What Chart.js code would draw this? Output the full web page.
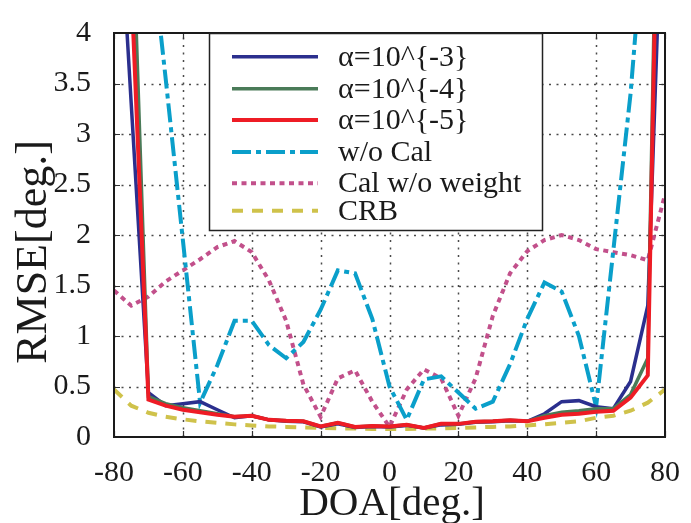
<!DOCTYPE html>
<html>
<head>
<meta charset="utf-8">
<script src="https://cdn.jsdelivr.net/npm/chart.js@4.4.1/dist/chart.umd.min.js"></script>
<style>
  html, body { margin: 0; padding: 0; background: #ffffff; }
  #wrap { width: 691px; height: 523px; }
</style>
</head>
<body>
<div id="wrap"><canvas id="c" width="691" height="523"></canvas></div>
<script>
// Direction of arrival (degrees)
const doa = [-80, -75, -70, -65, -60, -55, -50, -45, -40, -35, -30, -25, -20, -15, -10, -5, 0,
             5, 10, 15, 20, 25, 30, 35, 40, 45, 50, 55, 60, 65, 70, 75, 80];

// RMSE [deg.] per method
const alpha3 = [6.2, 3.3, 0.44, 0.31, 0.33, 0.35, 0.27, 0.19, 0.21, 0.17, 0.155, 0.15, 0.10, 0.13, 0.095, 0.105, 0.10,
                0.115, 0.09, 0.12, 0.125, 0.145, 0.15, 0.16, 0.155, 0.23, 0.35, 0.36, 0.30, 0.28, 0.55, 1.3, 6.2];
const alpha4 = [10, 5.5, 0.40, 0.33, 0.29, 0.26, 0.23, 0.20, 0.21, 0.17, 0.16, 0.155, 0.105, 0.14, 0.10, 0.11, 0.105,
                0.12, 0.09, 0.13, 0.13, 0.15, 0.155, 0.165, 0.155, 0.21, 0.245, 0.26, 0.28, 0.28, 0.42, 0.78, 10];
const alpha5 = [9, 4.5, 0.37, 0.31, 0.27, 0.245, 0.22, 0.20, 0.21, 0.17, 0.16, 0.155, 0.105, 0.14, 0.10, 0.11, 0.105,
                0.12, 0.09, 0.13, 0.13, 0.15, 0.155, 0.165, 0.155, 0.19, 0.22, 0.23, 0.25, 0.26, 0.39, 0.61, 9.3];
const noCal  = [9, 7, 5.1, 3.55, 1.95, 0.34, 0.71, 1.15, 1.15, 0.91, 0.78, 0.94, 1.26, 1.65, 1.62, 1.17, 0.5,
                0.17, 0.57, 0.6, 0.44, 0.28, 0.35, 0.72, 1.17, 1.53, 1.44, 1.0, 0.30, 1.85, 3.4, 5.5, 8];
const calNoWeight = [1.45, 1.3, 1.39, 1.54, 1.65, 1.76, 1.88, 1.94, 1.83, 1.55, 1.15, 0.52, 0.2, 0.58, 0.66, 0.35, 0.1,
                     0.47, 0.67, 0.58, 0.21, 0.58, 1.2, 1.62, 1.84, 1.95, 2.0, 1.95, 1.86, 1.83, 1.8, 1.75, 2.4];
const crb    = [0.47, 0.31, 0.24, 0.2, 0.175, 0.155, 0.14, 0.125, 0.115, 0.105, 0.1, 0.095, 0.09, 0.085, 0.085, 0.08, 0.08,
                0.08, 0.085, 0.085, 0.09, 0.095, 0.1, 0.105, 0.115, 0.125, 0.14, 0.155, 0.19, 0.21, 0.26, 0.34, 0.47];

const xTicks = [-80, -60, -40, -20, 0, 20, 40, 60, 80];
const yTicks = [0, 0.5, 1, 1.5, 2, 2.5, 3, 3.5, 4];

const seriesNames = ['α=10^{-3}', 'α=10^{-4}', 'α=10^{-5}', 'w/o Cal', 'Cal w/o weight', 'CRB'];

const serif = '"Liberation Serif", "DejaVu Serif", serif';
const textColor = '#1a1a1a';

const styles = [
  { color: '#2b2f8e', width: 3.5, dash: [] },
  { color: '#4a7b58', width: 3.5, dash: [] },
  { color: '#ee1c25', width: 4,   dash: [] },
  { color: '#0a9fca', width: 4,   dash: [19, 5, 5, 5] },
  { color: '#c2508b', width: 4,   dash: [5, 4.5] },
  { color: '#cfc24b', width: 4,   dash: [11, 9] }
];
const seriesData = [alpha3, alpha4, alpha5, noCal, calNoWeight, crb];
// red on top, CRB at the bottom
const drawOrder = [2, 1, 0, 3, 4, 5];

const datasets = seriesData.map((vals, i) => ({
  label: seriesNames[i],
  data: doa.map((d, k) => ({ x: d, y: vals[k] })),
  borderColor: styles[i].color,
  backgroundColor: styles[i].color,
  borderWidth: styles[i].width,
  borderDash: styles[i].dash,
  fill: false,
  pointRadius: 0,
  tension: 0,
  clip: 0,
  order: drawOrder[i]
}));

// Dotted grid behind the curves
const dottedGrid = {
  id: 'dottedGrid',
  beforeDatasetsDraw(chart) {
    const { ctx, chartArea: a, scales: { x, y } } = chart;
    ctx.save();
    ctx.strokeStyle = '#4a4a4a';
    ctx.lineWidth = 1.5;
    ctx.setLineDash([2, 5.5]);
    xTicks.slice(1, -1).forEach(v => {
      const px = Math.round(x.getPixelForValue(v)) + 0.5;
      ctx.beginPath();
      ctx.moveTo(px, a.bottom); ctx.lineTo(px, a.top);
      ctx.stroke();
    });
    yTicks.slice(1, -1).forEach(v => {
      const py = Math.round(y.getPixelForValue(v)) + 0.5;
      ctx.beginPath();
      ctx.moveTo(a.left, py); ctx.lineTo(a.right, py);
      ctx.stroke();
    });
    ctx.restore();
  }
};

// Box frame, inward tick marks, axis titles and the boxed legend
const decorations = {
  id: 'decorations',
  afterDatasetsDraw(chart) {
    const { ctx, chartArea: a, scales: { x, y } } = chart;
    ctx.save();
    ctx.setLineDash([]);

    // inward ticks
    ctx.strokeStyle = '#333';
    ctx.lineWidth = 1.2;
    const tl = 6;
    ctx.beginPath();
    xTicks.forEach(v => {
      const px = Math.round(x.getPixelForValue(v)) + 0.5;
      ctx.moveTo(px, a.bottom); ctx.lineTo(px, a.bottom - tl);
      ctx.moveTo(px, a.top); ctx.lineTo(px, a.top + tl);
    });
    yTicks.forEach(v => {
      const py = Math.round(y.getPixelForValue(v)) + 0.5;
      ctx.moveTo(a.left, py); ctx.lineTo(a.left + tl, py);
      ctx.moveTo(a.right, py); ctx.lineTo(a.right - tl, py);
    });
    ctx.stroke();

    // frame
    ctx.strokeStyle = '#1a1a1a';
    ctx.lineWidth = 2;
    ctx.strokeRect(a.left, a.top, a.right - a.left, a.bottom - a.top);

    // legend box
    const lx = 209, ly = 33, lw = 333, lh = 197;
    ctx.fillStyle = '#ffffff';
    ctx.fillRect(lx, ly, lw, lh);
    ctx.strokeStyle = '#222';
    ctx.lineWidth = 1.5;
    ctx.strokeRect(lx + 0.5, ly + 0.5, lw, lh);

    const rows = [56.7, 88.7, 120, 152, 183.3, 210.7];
    ctx.font = '30px ' + serif;
    ctx.textBaseline = 'middle';
    ctx.textAlign = 'left';
    rows.forEach((ry, i) => {
      const s = styles[i];
      ctx.beginPath();
      ctx.strokeStyle = s.color;
      ctx.lineWidth = s.width;
      ctx.setLineDash(s.dash);
      ctx.moveTo(232, ry);
      ctx.lineTo(318, ry);
      ctx.stroke();
      ctx.setLineDash([]);
      ctx.fillStyle = textColor;
      ctx.fillText(seriesNames[i], 338, ry + 1);
    });

    // axis titles
    ctx.fillStyle = textColor;
    ctx.font = '41px ' + serif;
    ctx.textAlign = 'center';
    ctx.textBaseline = 'alphabetic';
    ctx.fillText('DOA[deg.]', 392, 515);

    ctx.save();
    ctx.translate(46, 252);
    ctx.rotate(-Math.PI / 2);
    ctx.font = '44px ' + serif;
    ctx.fillText('RMSE[deg.]', 0, 0);
    ctx.restore();

    ctx.restore();
  }
};

new Chart(document.getElementById('c'), {
  type: 'line',
  data: { datasets },
  plugins: [dottedGrid, decorations],
  options: {
    responsive: false,
    animation: false,
    devicePixelRatio: 1,
    layout: { padding: { left: 0, top: 24, right: 26, bottom: 0 } },
    plugins: { legend: { display: false }, tooltip: { enabled: false } },
    scales: {
      x: {
        type: 'linear',
        min: -80, max: 80,
        afterBuildTicks: s => { s.ticks = xTicks.map(v => ({ value: v })); },
        afterFit: s => { s.height = 86; },
        ticks: {
          font: { family: serif, size: 30 },
          color: textColor,
          padding: 10,
          maxRotation: 0,
          autoSkip: false,
          callback: v => String(v)
        },
        grid: { display: false },
        border: { display: false }
      },
      y: {
        type: 'linear',
        min: 0, max: 4,
        afterBuildTicks: s => { s.ticks = yTicks.map(v => ({ value: v })); },
        afterFit: s => { s.width = 114; },
        ticks: {
          font: { family: serif, size: 30 },
          color: textColor,
          padding: 15,
          autoSkip: false,
          callback: v => String(v)
        },
        grid: { display: false },
        border: { display: false }
      }
    }
  }
});
</script>
</body>
</html>
